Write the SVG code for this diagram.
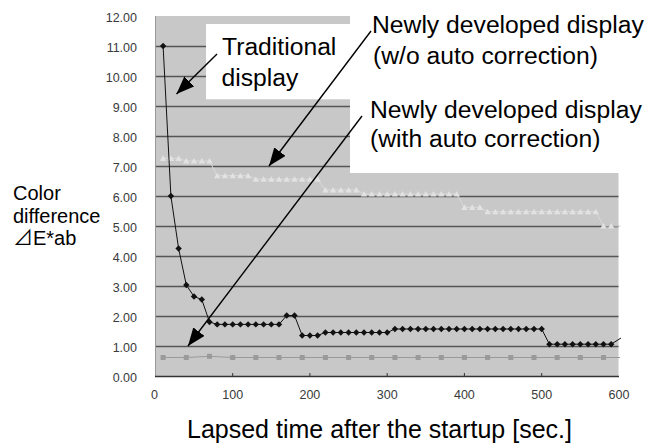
<svg xmlns="http://www.w3.org/2000/svg" width="663" height="445" viewBox="0 0 663 445">
  <style>
    .lbl { font-family: "Liberation Sans", Arial, "Noto Sans CJK JP", sans-serif; fill: #000; }
    .big { font-size: 24.7px; }
    .ytl { font-family: "Liberation Sans", Arial, sans-serif; font-size: 12.5px; fill: #3a3a3a; text-anchor: end; }
    .xtl { font-family: "Liberation Sans", Arial, sans-serif; font-size: 12.5px; fill: #3a3a3a; text-anchor: middle; }
    .grid { stroke: #555; stroke-width: 1.5; }
    .tick { stroke: #333; stroke-width: 1; }
    .arrow { stroke: #000; stroke-width: 1.4; fill: none; marker-end: url(#head); }
  </style>
  <defs>
    <marker id="head" markerUnits="userSpaceOnUse" markerWidth="20" markerHeight="14" refX="18" refY="7" orient="auto">
      <path d="M0,0 L18,7 L0,14 Z" fill="#000"/>
    </marker>
    <marker id="dia" markerUnits="userSpaceOnUse" markerWidth="8" markerHeight="8" refX="4" refY="4">
      <path d="M4,0.8 L7.2,4 L4,7.2 L0.8,4 Z" fill="#111"/>
    </marker>
    <marker id="tri" markerUnits="userSpaceOnUse" markerWidth="8" markerHeight="8" refX="4" refY="4">
      <path d="M4,1 L7.2,6.6 L0.8,6.6 Z" fill="#e2e2e2"/>
    </marker>
    <marker id="sq" markerUnits="userSpaceOnUse" markerWidth="8" markerHeight="8" refX="4" refY="4">
      <rect x="1.5" y="1.5" width="5" height="5" fill="#9a9a9a"/>
    </marker>
  </defs>

  <rect width="663" height="445" fill="#fff"/>

  <!-- plot area -->
  <g id="plot">
    <rect x="155.5" y="16" width="463" height="360.5" fill="#c8c8c8"/>
    <g class="grid">
      <line x1="155.5" y1="46.5" x2="618.5" y2="46.5"/>
      <line x1="155.5" y1="76.5" x2="618.5" y2="76.5"/>
      <line x1="155.5" y1="106.5" x2="618.5" y2="106.5"/>
      <line x1="155.5" y1="136.5" x2="618.5" y2="136.5"/>
      <line x1="155.5" y1="166.5" x2="618.5" y2="166.5"/>
      <line x1="155.5" y1="196.5" x2="618.5" y2="196.5"/>
      <line x1="155.5" y1="226.5" x2="618.5" y2="226.5"/>
      <line x1="155.5" y1="256.5" x2="618.5" y2="256.5"/>
      <line x1="155.5" y1="286.5" x2="618.5" y2="286.5"/>
      <line x1="155.5" y1="316.5" x2="618.5" y2="316.5"/>
      <line x1="155.5" y1="346.5" x2="618.5" y2="346.5"/>
    </g>
    <!-- label backgrounds laid over the grid -->
    <rect x="206" y="24" width="144" height="75.3" fill="#fff"/>
    <rect x="350" y="0" width="313" height="173" fill="#fff"/>
    <!-- axes -->
    <line x1="155.5" y1="16" x2="155.5" y2="376.5" stroke="#999" stroke-width="1"/>
    <line x1="155" y1="376.5" x2="619" y2="376.5" stroke="#333" stroke-width="1.5"/>
    <g class="tick">
      <line x1="232.7" y1="373" x2="232.7" y2="376"/>
      <line x1="309.9" y1="373" x2="309.9" y2="376"/>
      <line x1="387.2" y1="373" x2="387.2" y2="376"/>
      <line x1="464.4" y1="373" x2="464.4" y2="376"/>
      <line x1="541.7" y1="373" x2="541.7" y2="376"/>
    </g>
  </g>

  <!-- axis tick labels -->
  <g id="y-ticks">
    <text class="ytl" x="137" y="21.5">12.00</text>
    <text class="ytl" x="137" y="51.5">11.00</text>
    <text class="ytl" x="137" y="81.5">10.00</text>
    <text class="ytl" x="137" y="111.5">9.00</text>
    <text class="ytl" x="137" y="141.5">8.00</text>
    <text class="ytl" x="137" y="171.5">7.00</text>
    <text class="ytl" x="137" y="201.5">6.00</text>
    <text class="ytl" x="137" y="231.5">5.00</text>
    <text class="ytl" x="137" y="261.5">4.00</text>
    <text class="ytl" x="137" y="291.5">3.00</text>
    <text class="ytl" x="137" y="321.5">2.00</text>
    <text class="ytl" x="137" y="351.5">1.00</text>
    <text class="ytl" x="137" y="381.5">0.00</text>
  </g>
  <g id="x-ticks">
    <text class="xtl" x="154.5" y="398.5">0</text>
    <text class="xtl" x="232.7" y="398.5">100</text>
    <text class="xtl" x="309.9" y="398.5">200</text>
    <text class="xtl" x="387.2" y="398.5">300</text>
    <text class="xtl" x="464.4" y="398.5">400</text>
    <text class="xtl" x="541.7" y="398.5">500</text>
    <text class="xtl" x="619" y="398.5">600</text>
  </g>

  <!-- data series -->
  <g id="series-wo-correction">
    <polyline fill="none" stroke="#dadada" stroke-width="1" marker-start="url(#tri)" marker-mid="url(#tri)"
      points="163.1,158.3 170.9,158.3 178.6,158.3 186.3,161 194,161 201.8,161 209.5,161 217.2,175.7 224.9,175.7 232.7,175.7 240.4,175.7 248.1,175.7 255.8,179.2 263.6,179.2 271.3,179.2 279,179.2 286.7,179.2 294.5,179.2 302.2,179.2 309.9,179.2 317.6,179.2 325.4,190 333.1,190 340.8,190 348.6,190 356.3,190 364,194 371.7,194 379.5,194 387.2,194 394.9,194 402.6,194 410.4,194 418.1,194 425.8,194 433.5,194 441.3,194 449,194 456.7,194 464.4,207.3 472.2,207.3 479.9,207.3 487.6,211.7 495.3,211.7 503.1,211.7 510.8,211.7 518.5,211.7 526.2,211.7 534,211.7 541.7,211.7 549.4,211.7 557.2,211.7 564.9,211.7 572.6,211.7 580.3,211.7 588.1,211.7 595.8,211.7 603.5,226 611.2,226 621,226"/>
  </g>
  <g id="series-with-correction">
    <polyline fill="none" stroke="#9a9a9a" stroke-width="1" marker-start="url(#sq)" marker-mid="url(#sq)"
      points="163.1,357.5 186.3,357.5 209.5,356.3 232.7,357.5 255.8,357.5 279,357.5 302.2,357.5 325.4,357.5 348.6,357.5 371.7,357.5 394.9,357.5 418.1,357.5 441.3,357.5 464.4,357.5 487.6,357.5 510.8,357.5 534,357.5 557.2,357.5 580.3,357.5 603.5,357.5 620,357.5"/>
  </g>
  <g id="series-traditional">
    <polyline fill="none" stroke="#111" stroke-width="1" marker-start="url(#dia)" marker-mid="url(#dia)"
      points="163.1,46 170.9,196 178.6,248.5 186.3,285 194,296.5 201.8,299.5 209.5,322 217.2,324.4 224.9,324.4 232.7,324.4 240.4,324.4 248.1,324.4 255.8,324.4 263.6,324.4 271.3,324.4 279,324.4 286.7,315.5 294.5,315.5 302.2,335.5 309.9,335.5 317.6,335.5 325.4,332.5 333.1,332.5 340.8,332.5 348.6,332.5 356.3,332.5 364,332.5 371.7,332.5 379.5,332.5 387.2,332.5 394.9,329 402.6,329 410.4,329 418.1,329 425.8,329 433.5,329 441.3,329 449,329 456.7,329 464.4,329 472.2,329 479.9,329 487.6,329 495.3,329 503.1,329 510.8,329 518.5,329 526.2,329 534,329 541.7,329 549.4,344.2 557.2,344.2 564.9,344.2 572.6,344.2 580.3,344.2 588.1,344.2 595.8,344.2 603.5,344.2 611.2,344.2 621,338"/>
  </g>

  <!-- pointer arrows -->
  <g id="connectors">
    <line class="arrow" x1="217" y1="54" x2="176.5" y2="94"/>
    <line class="arrow" x1="371" y1="31" x2="269" y2="166"/>
    <line class="arrow" x1="362" y1="116" x2="188" y2="346"/>
  </g>

  <!-- labels -->
  <g id="label-traditional">
    <text class="lbl big" x="222" y="55">Traditional</text>
    <text class="lbl big" x="221.5" y="86">display</text>
  </g>
  <g id="label-wo-correction">
    <text class="lbl big" x="372" y="33">Newly developed display</text>
    <text class="lbl big" x="373" y="64">(w/o auto correction)</text>
  </g>
  <g id="label-with-correction">
    <text class="lbl big" x="370" y="118">Newly developed display</text>
    <text class="lbl big" x="370" y="147">(with auto correction)</text>
  </g>
  <g id="y-title">
    <text class="lbl" font-size="20" x="13" y="200">Color</text>
    <text class="lbl" font-size="20" x="13" y="223">difference</text>
    <text class="lbl" font-size="20" x="13" y="245">⊿E*ab</text>
  </g>
  <g id="x-title">
    <text class="lbl" font-size="25" x="187" y="438">Lapsed time after the startup [sec.]</text>
  </g>
</svg>
